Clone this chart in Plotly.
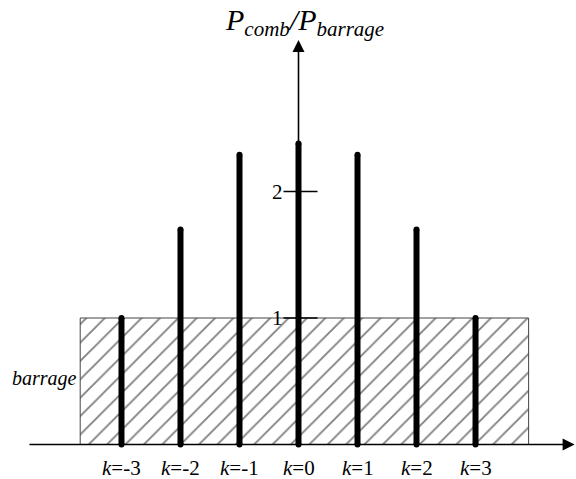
import plotly.graph_objects as go

# ---- data ----
k_values = [-3, -2, -1, 0, 1, 2, 3]
power_ratio = [1.0, 1.7, 2.29, 2.38, 2.29, 1.7, 1.0]
k_labels = ["<i>k</i>=-3", "<i>k</i>=-2", "<i>k</i>=-1", "<i>k</i>=0",
            "<i>k</i>=1", "<i>k</i>=2", "<i>k</i>=3"]
barrage_level = [1.0]
barrage_band = [-3.7, 3.9]          # band edges (in k units)
y_tick_values = [1, 2]
y_tick_labels = ["1", "2"]

# axis extents (k units / ratio units)
X_RANGE = [-5.059, 4.703]
Y_RANGE = [-0.2727, 3.514]
X_AXIS_START = -4.585
X_AXIS_END = 4.68
Y_AXIS_TOP = 3.198

FONT = "Liberation Serif, Times New Roman, serif"

fig = go.Figure()

# hatched barrage band
fig.add_trace(go.Bar(
    x=[(barrage_band[0] + barrage_band[1]) / 2],
    y=barrage_level,
    width=[barrage_band[1] - barrage_band[0]],
    marker=dict(color="white",
                line=dict(color="#444444", width=1),
                pattern=dict(shape="/", fgcolor="black", bgcolor="white",
                             size=13, solidity=0.14)),
    showlegend=False, hoverinfo="skip",
))

# comb lines
xs, ys = [], []
for k, v in zip(k_values, power_ratio):
    xs += [k, k, None]
    ys += [0, v, None]
fig.add_trace(go.Scatter(
    x=xs, y=ys, mode="lines+markers",
    line=dict(color="black", width=6),
    marker=dict(color="black", size=6),
    showlegend=False, hoverinfo="skip",
))

annotations = []
# x axis with arrow
annotations.append(dict(x=X_AXIS_END, y=0, ax=X_AXIS_START, ay=0,
                        xref="x", yref="y", axref="x", ayref="y",
                        text="", showarrow=True, arrowhead=2, arrowsize=1.5,
                        arrowwidth=1.6, arrowcolor="black"))
# y axis with arrow
annotations.append(dict(x=0, y=Y_AXIS_TOP, ax=0, ay=0,
                        xref="x", yref="y", axref="x", ayref="y",
                        text="", showarrow=True, arrowhead=2, arrowsize=1.5,
                        arrowwidth=1.6, arrowcolor="black"))
# y-axis title
annotations.append(dict(x=0, y=1 - 22 / 479, xref="x", yref="paper",
                        text="<i>P<sub>comb</sub>/P<sub>barrage</sub></i>",
                        showarrow=False, xanchor="center", yanchor="middle",
                        xshift=6, font=dict(family=FONT, size=30, color="black")))
# tick labels on y axis
for tv, tl in zip(y_tick_values, y_tick_labels):
    annotations.append(dict(x=0, y=tv, xref="x", yref="y", text=tl,
                            showarrow=False, xanchor="right", yanchor="middle",
                            xshift=-14, font=dict(family=FONT, size=21, color="black")))
# k labels
for k, lab in zip(k_values, k_labels):
    annotations.append(dict(x=k, y=0, xref="x", yref="y", text=lab,
                            showarrow=False, xanchor="center", yanchor="middle",
                            yshift=-23, font=dict(family=FONT, size=21, color="black")))
# barrage label
annotations.append(dict(x=barrage_band[0], y=barrage_level[0] / 2, xref="x", yref="y",
                        text="<i>barrage</i>", showarrow=False,
                        xanchor="right", yanchor="middle", xshift=-1, yshift=3,
                        font=dict(family=FONT, size=20, color="black")))

shapes = []
for tv in y_tick_values:
    shapes.append(dict(type="line", xref="x", yref="y", xsizemode="pixel",
                       xanchor=0, x0=-15, x1=19, y0=tv, y1=tv,
                       line=dict(color="black", width=1.5)))

fig.update_layout(
    width=576, height=479, autosize=False,
    margin=dict(l=0, r=0, t=0, b=0),
    paper_bgcolor="white", plot_bgcolor="white",
    xaxis=dict(range=X_RANGE, visible=False, fixedrange=True),
    yaxis=dict(range=Y_RANGE, visible=False, fixedrange=True),
    annotations=annotations, shapes=shapes,
    bargap=0, showlegend=False,
)

fig.write_html(
    "out.html",
    config={"displayModeBar": False, "staticPlot": True},
    post_script="document.body.style.margin='0';document.body.style.overflow='hidden';",
)
